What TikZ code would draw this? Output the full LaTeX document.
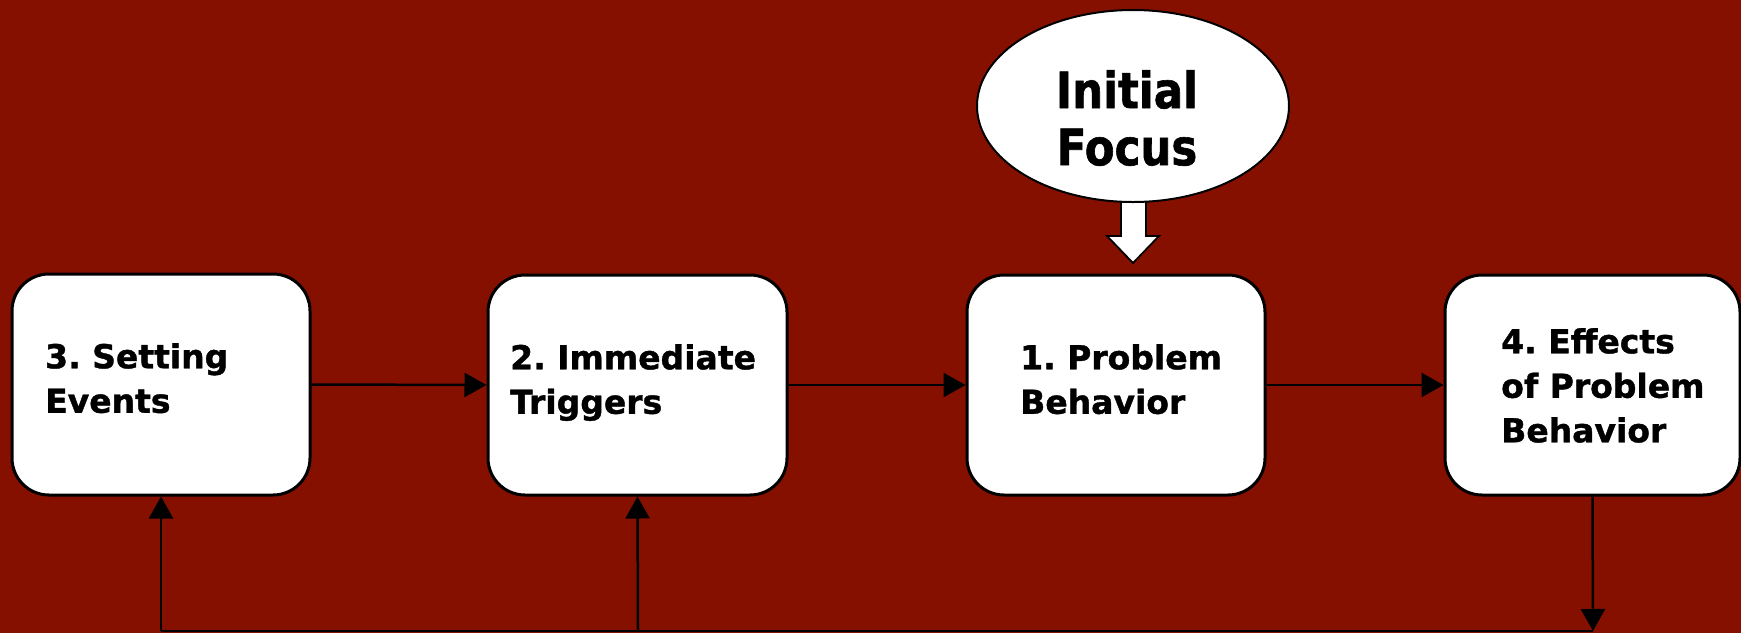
\documentclass[tikz,border=0pt]{standalone}
\usepackage{fontspec}
\setmainfont{DejaVu Sans}[BoldFeatures={FakeBold=1.2}]
\newfontfamily\focusfont[FakeStretch=0.87,BoldFeatures={FakeBold=1.2}]{DejaVu Sans}
\usetikzlibrary{arrows.meta,shapes.geometric}
\definecolor{bgred}{RGB}{134,16,0}
\frenchspacing
\tikzset{
  stagebox/.style={draw=black, line width=3pt, fill=white, rounded corners=37pt, inner sep=0pt},
  stagetxt/.style={anchor=north west, inner sep=0pt, align=left, font=\bfseries\fontsize{33}{44.5}\selectfont},
  link/.style={draw=black, line width=2.5pt, -{Triangle[length=22pt,width=24pt]}},
  plain/.style={draw=black, line width=2.5pt},
  focusshape/.style={ellipse, draw=black, line width=2pt, fill=white, minimum width=312pt, minimum height=192pt, inner sep=0pt},
  blockarrow/.style={draw=black, line width=1.8pt, fill=white, line join=miter}
}
\begin{document}
\begin{tikzpicture}[x=1pt,y=-1pt]
\fill[bgred] (0,0) rectangle (1741,633);
\useasboundingbox (0,0) rectangle (1741,633);

% boxes
\node[stagebox, minimum width=298pt, minimum height=221pt] (b3) at (161,384.5) {};
\node[stagebox, minimum width=299pt, minimum height=220pt] (b2) at (637.5,385) {};
\node[stagebox, minimum width=298pt, minimum height=220pt] (b1) at (1116,385) {};
\node[stagebox, minimum width=295pt, minimum height=220pt] (b4) at (1592.5,385) {};

\node[stagetxt] (t3) at (45,343) {3. Setting\\Events};
\node[stagetxt] (t2) at (510,344) {2. Immediate\\Triggers};
\node[stagetxt] (t1) at (1020,344) {1. Problem\\Behavior};
\node[stagetxt] (t4) at (1501,328) {4. Effects\\of Problem\\Behavior};

% block arrow from the ellipse
\draw[blockarrow] (1121,190) -- (1121,236) -- (1107,236) -- (1133,263) -- (1159,236) -- (1146,236) -- (1146,190) -- cycle;

% ellipse
\node[focusshape] (focus) at (1133,106) {};
\node[anchor=north, inner sep=0pt, align=center, font=\focusfont\bfseries\fontsize{50}{57}\selectfont] (ftxt) at (1127,70) {Initial\\Focus};

% connectors
\draw[link] (b3.east) -- (b2.west);
\draw[link] (b2.east) -- (b1.west);
\draw[link] (b1.east) -- (b4.west);

\coordinate (c4) at (1593,631);
\coordinate (c3) at (161,631);
\coordinate (c2) at (638,631);
\draw[link] (b4.south) -- (c4);
\draw[plain] (c4) -- (c3);
\draw[link] (c3) -- (b3.south);
\draw[link] (c2) -- (b2.south);
\end{tikzpicture}
\end{document}
